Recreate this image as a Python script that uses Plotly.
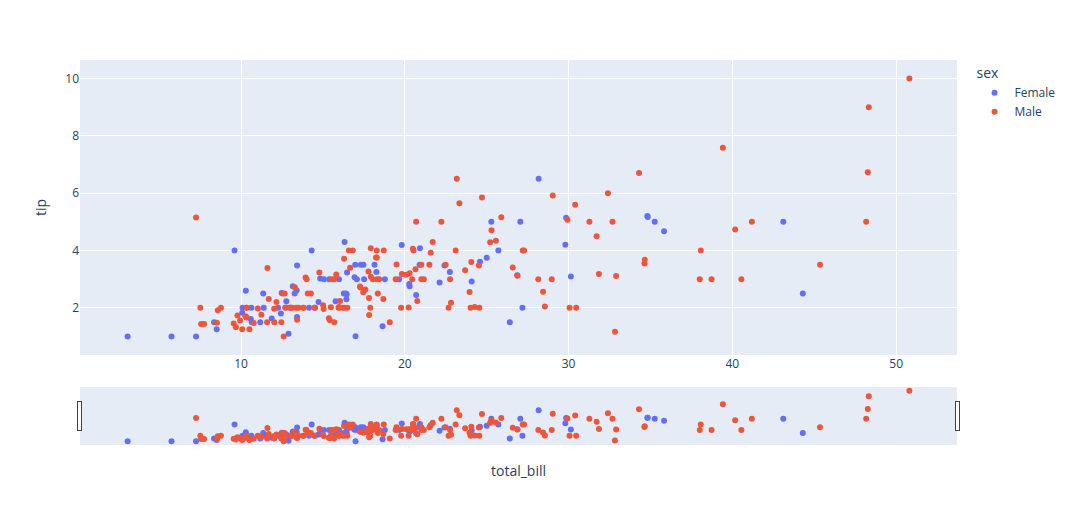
import pandas as pd
import plotly.express as px

# tips data: bill, tip, sex (row order kept)
total_bill = [
    16.99, 10.34, 21.01, 23.68, 24.59, 25.29, 8.77, 26.88, 15.04, 14.78,
    10.27, 35.26, 15.42, 18.43, 14.83, 21.58, 10.33, 16.29, 16.97, 20.65,
    17.92, 20.29, 15.77, 39.42, 19.82, 17.81, 13.37, 12.69, 21.7, 19.65,
    9.55, 18.35, 15.06, 20.69, 17.78, 24.06, 16.31, 16.93, 18.69, 31.27,
    16.04, 17.46, 13.94, 9.68, 30.4, 18.29, 22.23, 32.4, 28.55, 18.04,
    12.54, 10.29, 34.81, 9.94, 25.56, 19.49, 38.01, 26.41, 11.24, 48.27,
    20.29, 13.81, 11.02, 18.29, 17.59, 20.08, 16.45, 3.07, 20.23, 15.01,
    12.02, 17.07, 26.86, 25.28, 14.73, 10.51, 17.92, 27.2, 22.76, 17.29,
    19.44, 16.66, 10.07, 32.68, 15.98, 34.83, 13.03, 18.28, 24.71, 21.16,
    28.97, 22.49, 5.75, 16.32, 22.75, 40.17, 27.28, 12.03, 21.01, 12.46,
    11.35, 15.38, 44.3, 22.42, 20.92, 15.36, 20.49, 25.21, 18.24, 14.31,
    14.0, 7.25, 38.07, 23.95, 25.71, 17.31, 29.93, 10.65, 12.43, 24.08,
    11.69, 13.42, 14.26, 15.95, 12.48, 29.8, 8.52, 14.52, 11.38, 22.82,
    19.08, 20.27, 11.17, 12.26, 18.26, 8.51, 10.33, 14.15, 16.0, 13.16,
    17.47, 34.3, 41.19, 27.05, 16.43, 8.35, 18.64, 11.87, 9.78, 7.51,
    14.07, 13.13, 17.26, 24.55, 19.77, 29.85, 48.17, 25.0, 13.39, 16.49,
    21.5, 12.66, 16.21, 13.81, 17.51, 24.52, 20.76, 31.71, 10.59, 10.63,
    50.81, 15.81, 7.25, 31.85, 16.82, 32.9, 17.89, 14.48, 9.6, 34.63,
    34.65, 23.33, 45.35, 23.17, 40.55, 20.69, 20.9, 30.46, 18.15, 23.1,
    15.69, 19.81, 28.44, 15.48, 16.58, 7.56, 10.34, 43.11, 13.0, 13.51,
    18.71, 12.74, 13.0, 16.4, 20.53, 16.47, 26.59, 38.73, 24.27, 12.76,
    30.06, 25.89, 48.33, 13.27, 28.17, 12.9, 28.15, 11.59, 7.74, 30.14,
    12.16, 13.42, 8.58, 15.98, 13.42, 16.27, 10.09, 20.45, 13.28, 22.12,
    24.01, 15.69, 11.61, 10.77, 15.53, 10.07, 12.6, 32.83, 35.83, 29.03,
    27.18, 22.67, 17.82, 18.78,
]

tip = [
    1.01, 1.66, 3.5, 3.31, 3.61, 4.71, 2.0, 3.12, 1.96, 3.23,
    1.71, 5.0, 1.57, 3.0, 3.02, 3.92, 1.67, 3.71, 3.5, 3.35,
    4.08, 2.75, 2.23, 7.58, 3.18, 2.34, 2.0, 2.0, 4.3, 3.0,
    1.45, 2.5, 3.0, 2.45, 3.27, 3.6, 2.0, 3.07, 2.31, 5.0,
    2.24, 2.54, 3.06, 1.32, 5.6, 3.0, 5.0, 6.0, 2.05, 3.0,
    2.5, 2.6, 5.2, 1.56, 4.34, 3.51, 3.0, 1.5, 1.76, 6.73,
    3.21, 2.0, 1.98, 3.76, 2.64, 3.15, 2.47, 1.0, 2.01, 2.09,
    1.97, 3.0, 3.14, 5.0, 2.2, 1.25, 3.08, 4.0, 3.0, 2.71,
    3.0, 3.4, 1.83, 5.0, 2.03, 5.17, 2.0, 4.0, 5.85, 3.0,
    3.0, 3.5, 1.0, 4.3, 3.25, 4.73, 4.0, 1.5, 3.0, 1.5,
    2.5, 3.0, 2.5, 3.48, 4.08, 1.64, 4.06, 4.29, 3.76, 4.0,
    3.0, 1.0, 4.0, 2.55, 4.0, 3.5, 5.07, 1.5, 1.8, 2.92,
    2.31, 1.68, 2.5, 2.0, 2.52, 4.2, 1.48, 2.0, 2.0, 2.18,
    1.5, 2.83, 1.5, 2.0, 3.25, 1.25, 2.0, 2.0, 2.0, 2.75,
    3.5, 6.7, 5.0, 5.0, 2.3, 1.5, 1.36, 1.63, 1.73, 2.0,
    2.5, 2.0, 2.74, 2.0, 2.0, 5.14, 5.0, 3.75, 2.61, 2.0,
    3.5, 2.5, 2.0, 2.0, 3.0, 3.48, 2.24, 4.5, 1.61, 2.0,
    10.0, 3.16, 5.15, 3.18, 4.0, 3.11, 2.0, 2.0, 4.0, 3.55,
    3.68, 5.65, 3.5, 6.5, 3.0, 5.0, 3.5, 2.0, 3.5, 4.0,
    1.5, 4.19, 2.56, 2.02, 4.0, 1.44, 2.0, 5.0, 2.0, 2.0,
    4.0, 2.01, 2.0, 2.5, 4.0, 3.23, 3.41, 3.0, 2.03, 2.23,
    2.0, 5.16, 9.0, 2.5, 6.5, 1.1, 3.0, 1.5, 1.44, 3.09,
    2.2, 3.48, 1.92, 3.0, 1.58, 2.5, 2.0, 3.0, 2.72, 2.88,
    2.0, 3.0, 3.39, 1.47, 3.0, 1.25, 1.0, 1.17, 4.67, 5.92,
    2.0, 2.0, 1.75, 3.0,
]

F, M = "Female", "Male"
sex = [
    F, M, M, M, F, M, M, M, M, M,
    M, F, M, M, F, M, F, M, F, M,
    M, F, F, M, M, M, M, M, M, F,
    M, M, F, F, M, M, M, F, M, M,
    M, M, M, M, M, M, M, M, M, M,
    M, F, F, M, M, M, M, F, M, M,
    M, M, M, M, M, M, F, F, M, M,
    M, F, F, F, F, M, M, M, M, M,
    M, M, F, M, M, F, M, M, M, M,
    M, M, F, F, F, M, M, M, M, M,
    F, F, F, F, F, M, M, M, M, F,
    M, F, M, M, F, F, M, F, F, F,
    M, F, M, M, F, F, M, F, F, M,
    M, F, F, F, F, F, F, F, M, F,
    F, M, M, F, F, F, F, F, M, M,
    M, M, M, M, M, F, M, F, F, M,
    M, M, F, M, F, M, M, M, F, F,
    M, M, M, M, M, M, M, M, F, M,
    M, M, M, M, M, M, F, M, F, M,
    M, F, M, M, M, M, M, F, F, M,
    M, F, F, F, M, F, M, M, M, F,
    M, M, M, F, F, F, M, M, M, F,
    M, F, M, F, M, F, F, M, M, F,
    M, M, M, M, M, M, M, M, F, M,
    F, M, M, F,
]

df = pd.DataFrame({"total_bill": total_bill, "tip": tip, "sex": sex})

fig = px.scatter(df, x="total_bill", y="tip", color="sex")
fig.update_xaxes(rangeslider_visible=True)
fig.update_layout(width=1073, height=525)

# page margin off so the figure sits at the window's corner
fig.write_html(
    "out.html",
    config={"displayModeBar": False},
    post_script="document.body.style.margin='0';",
)
